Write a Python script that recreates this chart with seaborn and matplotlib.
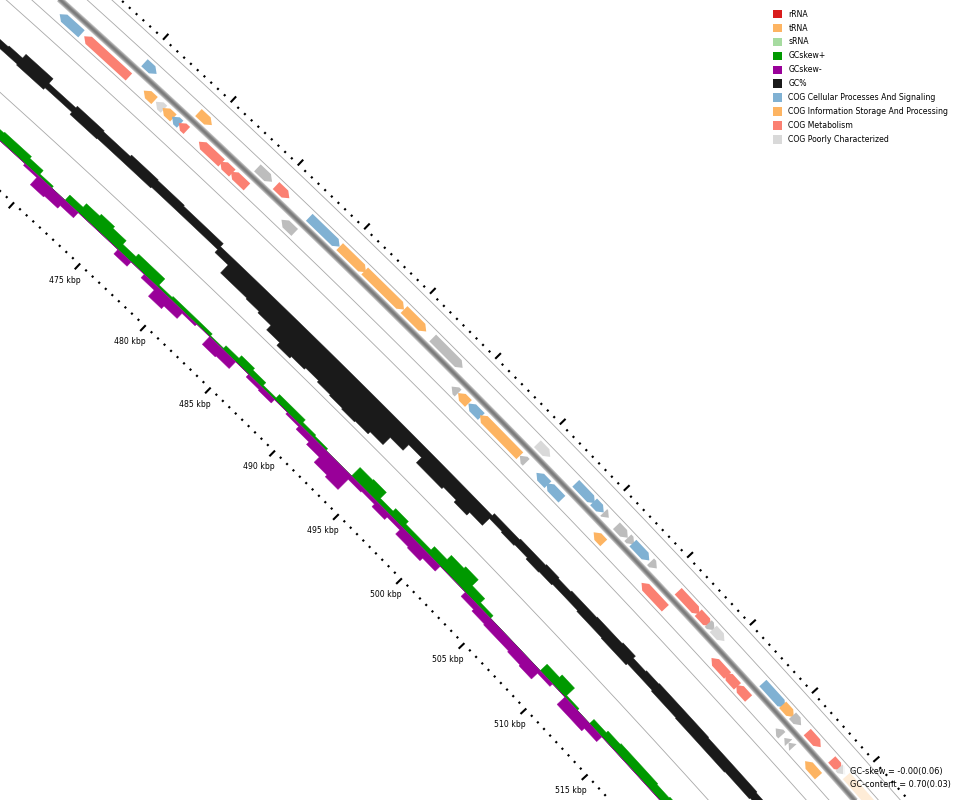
import numpy as np
import matplotlib
matplotlib.use("Agg")
import matplotlib.pyplot as plt
from matplotlib.patches import Polygon, Rectangle
from matplotlib.collections import LineCollection
import seaborn as sns

sns.set_theme(style="white")
plt.rcParams['font.family'] = ['DejaVu Sans']

# ---------------- data ----------------
# GC content deviation from mean (percentage points), 1 kbp windows from 463 kbp
gc_bin_start = 463
gc_above = [0.8, 1.1, 2.5, 2.5, 0.8, 0.8, 1.4, 1.4, 1.1, 1.1, 1.6, 1.6, 1.4, 1.4, 1.1, 1.1, 1.1,
            0, 0, 0, 0, 0, 0, 0, 0, 0, 0, 0, 0, 0, 0, 0, 0, 0, 0, 0, 0, 0,
            0.8, 0.8, 1.1, 1.1, 1.4, 1.1, 1.4, 1.4, 1.6, 1.6, 1.9, 1.1, 1.4, 1.6, 1.6, 1.6, 1.6,
            1.4, 1.4, 1.4, 1.4, 1.1]
gc_below = [1.1, 1.1, 1.4, 1.4, 0.8, 0.8, 1.6, 1.6, 1.4, 1.4, 1.4, 1.4, 1.1, 1.1, 1.1, 1.1, 1.1,
            2.2, 5.2, 5.2, 5.5, 6.0, 7.7, 8.8, 8.2, 7.7, 8.2, 8.5, 8.8, 8.5, 7.7, 4.9, 2.7, 4.7,
            4.7, 4.1, 4.9, 3.8,
            1.1, 1.4, 1.1, 1.6, 1.4, 1.1, 1.1, 1.4, 1.4, 1.6, 1.6, 1.1, 1.1, 1.4, 1.4, 1.6, 1.6,
            1.6, 1.6, 1.4, 1.4, 1.1]

# GC skew, 1 kbp windows from 463 kbp
skew_bin_start = 463
skew_pos = [0.039, 0.039, 0.039, 0.039, 0.044, 0.044, 0.033, 0.011,
            0, 0.033, 0.056, 0.067, 0.056, 0.033, 0.050, 0.050, 0.011, 0.017,
            0.017, 0.017, 0.006, 0.022, 0.039, 0.028, 0.011, 0.033, 0.033, 0.017,
            0.011, 0, 0, 0.056, 0.061, 0.022, 0.039, 0.022, 0.022, 0.044,
            0.072, 0.083, 0.044, 0.017, 0, 0, 0, 0, 0.044, 0.061,
            0.011, 0, 0.028, 0.039, 0.044, 0.044, 0.044, 0.039, 0.044, 0.033]
skew_neg = [0, 0, 0, 0, 0, 0, 0.011, 0.056,
            0.050, 0.033, 0, 0, 0, 0.028, 0, 0.022, 0.061, 0.044,
            0.011, 0, 0.050, 0.044, 0, 0.017, 0.022, 0, 0.011, 0.028,
            0.044, 0.078, 0.089, 0.022, 0.017, 0.033, 0.017, 0.044, 0.050, 0.033,
            0, 0, 0.028, 0.039, 0.044, 0.044, 0.050, 0.056, 0.017, 0,
            0.050, 0.050, 0.033, 0, 0, 0, 0, 0, 0, 0]

# CDS features (kbp)
feat_start = [464.9, 466.7, 471.1, 472.0, 472.5, 473.2, 473.7, 475.2, 476.8, 477.6,
              481.4, 494.4, 494.9, 495.7, 496.6, 499.7, 501.0, 501.8, 505.5, 509.3,
              514.9, 516.0, 516.9, 520.1, 520.8, 521.15, 522.5,
              470.1, 474.1, 478.5, 479.9, 482.4, 484.7, 486.6, 489.6, 491.8, 499.9,
              502.9, 504.3, 505.1, 506.1, 507.0, 507.4, 508.8, 511.0, 512.6, 513.4,
              513.8, 517.8, 519.4, 520.2, 521.4, 523.4, 524.0, 524.6]
feat_end = [466.5, 470.0, 471.9, 472.6, 473.3, 473.8, 474.3, 476.9, 477.7, 478.8,
            482.4, 494.9, 495.7, 496.7, 499.7, 500.2, 501.9, 503.0, 506.3, 511.2,
            516.2, 517.0, 517.9, 520.6, 521.15, 521.5, 523.6,
            471.0, 475.1, 479.6, 480.9, 484.7, 486.7, 489.6, 491.3, 494.1, 500.9,
            504.4, 505.1, 505.5, 507.0, 507.5, 508.7, 509.3, 512.7, 513.6, 513.9,
            514.7, 519.6, 520.3, 520.9, 522.5, 524.2, 524.5, 527.5]
feat_strand = [-1] * 27 + [1] * 28
feat_cat = ['cell', 'met', 'info', 'poor', 'info', 'cell', 'met', 'met', 'met', 'met',
            'none', 'none', 'info', 'cell', 'info', 'none', 'cell', 'cell', 'info', 'met',
            'met', 'met', 'met', 'none', 'none', 'none', 'info',
            'cell', 'info', 'none', 'met', 'cell', 'info', 'info', 'info', 'none', 'poor',
            'cell', 'cell', 'none', 'none', 'none', 'cell', 'none', 'met', 'met', 'none',
            'poor', 'cell', 'info', 'none', 'met', 'met', 'poor', 'info']
cat_colors = {'cell': '#80b1d3', 'info': '#fdb462', 'met': '#fb8072',
              'poor': '#d9d9d9', 'none': '#bdbdbd'}

ruler_label_kbp = [475, 480, 485, 490, 495, 500, 505, 510, 515]

legend_labels = ["rRNA", "tRNA", "sRNA", "GCskew+", "GCskew-", "GC%",
                 "COG Cellular Processes And Signaling",
                 "COG Information Storage And Processing",
                 "COG Metabolism", "COG Poorly Characterized"]
legend_colors = ['#d91c1c', '#fdb462', '#a6dba0', '#009900', '#990099', '#1a1a1a',
                 '#80b1d3', '#fdb462', '#fb8072', '#d9d9d9']

stats_lines = ["GC-skew = -0.00(0.06)", "GC-content = 0.70(0.03)"]

# ---------------- geometry ----------------
W, H = 960, 800
fig = plt.figure(figsize=(9.6, 8), dpi=100)
ax = fig.add_axes([0, 0, 1, 1])

CX, CY = -6405.0, 7211.0      # map centre (pixels)
R0 = 9500.0                   # inner ruler radius
KBP_PX = 18.0                 # pixels per kbp on inner ruler
TH0 = np.deg2rad(45.2)
P0 = 495.0


def xy(p, r):
    p = np.asarray(p, float)
    r = np.asarray(r, float)
    th = TH0 + (p - P0) * KBP_PX / R0
    rr = R0 + r
    return CX + rr * np.sin(th), CY - rr * np.cos(th)


P_MIN, P_MAX = 455, 535

# slot radii (px outward of inner ruler)
R_SKEW, SKEW_SCALE = 40.0, 215.0
R_GC, GC_SCALE = 112.5, 3.65
RING_LINES = [76, 149, 166, 203, 219.5]
R_BACKBONE = 185.0
R_FWD, R_REV, FEAT_H = 195.0, 174.0, 4.8
R_OUT_RULER = 224.5
R_IN_RULER = 4.0

# thin ring lines
pp = np.linspace(P_MIN, P_MAX, 300)
for r in RING_LINES:
    xs, ys = xy(pp, r)
    sns.lineplot(x=xs, y=ys, sort=False, estimator=None, color='#a8a8a8',
                 linewidth=0.6, ax=ax)


def step_polygon(start, inner, outer, base, scale):
    n = len(inner)
    ps_o, rs_o, ps_i, rs_i = [], [], [], []
    for i in range(n):
        p0 = start + i
        ps_o += [p0, p0 + 1]
        rs_o += [base + outer[i] * scale] * 2
        ps_i += [p0, p0 + 1]
        rs_i += [base + inner[i] * scale] * 2
    ps = ps_o + ps_i[::-1]
    rs = rs_o + rs_i[::-1]
    x, y = xy(ps, rs)
    return np.column_stack([x, y])


# GC content
ax.add_patch(Polygon(step_polygon(gc_bin_start, [-v for v in gc_below], gc_above, R_GC, GC_SCALE),
                     closed=True, facecolor='#1a1a1a', edgecolor='#1a1a1a', lw=0.3))
# GC skew
ax.add_patch(Polygon(step_polygon(skew_bin_start, [0] * len(skew_pos), skew_pos, R_SKEW, SKEW_SCALE),
                     closed=True, facecolor='#009900', edgecolor='#009900', lw=0.3))
ax.add_patch(Polygon(step_polygon(skew_bin_start, [-v for v in skew_neg], [0] * len(skew_neg), R_SKEW, SKEW_SCALE),
                     closed=True, facecolor='#990099', edgecolor='#990099', lw=0.3))

# backbone (shaded)
for w, c in [(6.5, '#c4c4c4'), (5.0, '#a6a6a6'), (3.5, '#8e8e8e'), (2.0, '#7c7c7c')]:
    xs, ys = xy(pp, R_BACKBONE)
    ax.plot(xs, ys, color=c, lw=w * 0.72, solid_capstyle='butt')

# features
HEAD_KBP = 0.33
for s, e, st, cat in zip(feat_start, feat_end, feat_strand, feat_cat):
    hl = min(HEAD_KBP, e - s)
    if st > 0:
        rc = R_FWD
        pts = [(s, rc - FEAT_H), (e - hl, rc - FEAT_H), (e, rc), (e - hl, rc + FEAT_H), (s, rc + FEAT_H)]
    else:
        rc = R_REV
        pts = [(e, rc - FEAT_H), (s + hl, rc - FEAT_H), (s, rc), (s + hl, rc + FEAT_H), (e, rc + FEAT_H)]
    x, y = xy([p for p, _ in pts], [r for _, r in pts])
    ax.add_patch(Polygon(np.column_stack([x, y]), closed=True,
                         facecolor=cat_colors[cat], edgecolor='none'))

# rulers
def ruler(base, direction, major_len, minor_len):
    major, minor = [], []
    for k in np.arange(P_MIN, P_MAX + 0.01, 0.5):
        is_major = abs(k / 5 - round(k / 5)) < 1e-9
        L = major_len if is_major else minor_len
        x0, y0 = xy(k, base)
        x1, y1 = xy(k, base + direction * L)
        (major if is_major else minor).append([(x0, y0), (x1, y1)])
    ax.add_collection(LineCollection(major, colors='black', linewidths=1.5, capstyle='butt'))
    ax.add_collection(LineCollection(minor, colors='black', linewidths=1.5, capstyle='butt'))


ruler(R_OUT_RULER, 1, 8, 2.2)
ruler(R_IN_RULER, -1, 8, 2.2)

for k in ruler_label_kbp:
    x, y = xy(k, -19)
    ax.text(x, y, f"{k} kbp", ha='center', va='center', fontsize=5.6, color='black')

# legend
for i, (lab, col) in enumerate(zip(legend_labels, legend_colors)):
    yc = 14.2 + i * 13.9
    ax.add_patch(Rectangle((773.3, yc - 4.3), 8.7, 8.6, facecolor=col, edgecolor='none'))
    ax.text(788.3, yc, lab, ha='left', va='center', fontsize=5.6, color='black')

# stats box
ax.add_patch(Rectangle((843, 762), 120, 40, facecolor='white', edgecolor='none', alpha=0.75))
for i, s in enumerate(stats_lines):
    ax.text(850.5, 771.5 + i * 13.5, s, ha='left', va='center', fontsize=5.9, color='black')

ax.set_xlim(0, W)
ax.set_ylim(H, 0)
ax.axis('off')
fig.savefig("out.png", dpi=100)
